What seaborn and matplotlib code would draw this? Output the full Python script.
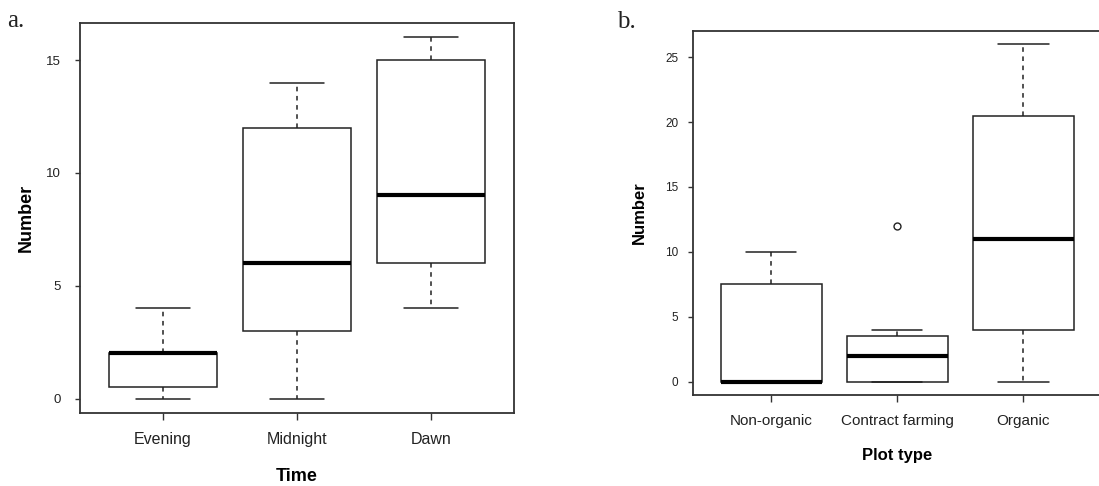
import pandas as pd
import matplotlib.pyplot as plt
import seaborn as sns

time_order = ['Evening', 'Midnight', 'Dawn']
evening = [0, 0, 2, 2, 2, 4]
midnight = [0, 3, 6, 12, 14]
dawn = [4, 6, 9, 15, 16]

plot_order = ['Non-organic', 'Contract farming', 'Organic']
non_organic = [0, 0, 0, 0, 5, 10, 10]
contract = [0, 0, 0, 2, 3, 4, 12]
organic = [0, 4, 4, 11, 19, 22, 26]

df_a = pd.DataFrame({
    'Time': ['Evening'] * len(evening) + ['Midnight'] * len(midnight) + ['Dawn'] * len(dawn),
    'Number': evening + midnight + dawn,
})
df_b = pd.DataFrame({
    'Plot type': ['Non-organic'] * len(non_organic) + ['Contract farming'] * len(contract)
                 + ['Organic'] * len(organic),
    'Number': non_organic + contract + organic,
})

sns.set_theme(style='ticks')
plt.rcParams['font.family'] = ['Liberation Sans', 'DejaVu Sans']

ink = '#222222'
box_kw = dict(
    width=0.8, color='white', linecolor=ink, linewidth=1.1,
    whiskerprops={'linestyle': (0, (3, 3))},
    medianprops={'linewidth': 3, 'color': 'black'},
    flierprops={'marker': 'o', 'markersize': 5, 'markerfacecolor': 'none',
                'markeredgecolor': ink, 'markeredgewidth': 1.0},
)

fig = plt.figure(figsize=(10.99, 4.86), dpi=100)
ax1 = fig.add_axes([0.0728, 0.1502, 0.3949, 0.8025])
ax2 = fig.add_axes([0.6306, 0.1872, 0.3717, 0.7496])

sns.boxplot(data=df_a, x='Time', y='Number', order=time_order, ax=ax1, **box_kw)
sns.boxplot(data=df_b, x='Plot type', y='Number', order=plot_order, ax=ax2, **box_kw)

ax1.set_xlim(-0.62, 2.62)
ax1.set_ylim(-0.64, 16.64)
ax1.set_yticks([0, 5, 10, 15])
ax2.set_xlim(-0.62, 2.62)
ax2.set_ylim(-1.04, 27.04)
ax2.set_yticks([0, 5, 10, 15, 20, 25])

for ax, ysize, xsize, lsize, ypad, ylx, xly in [
        (ax1, 9.5, 11.5, 13, 10.5, -0.124, -0.162),
        (ax2, 8.5, 11, 12, 7.2, -0.132, -0.167)]:
    for sp in ax.spines.values():
        sp.set_visible(True)
        sp.set_color('#333333')
        sp.set_linewidth(1.3)
    ax.tick_params(axis='y', length=3.5, width=1.0, color='#333333',
                   labelsize=ysize, labelcolor=ink, pad=ypad)
    ax.tick_params(axis='x', length=5, width=1.0, color='#333333',
                   labelsize=xsize, labelcolor=ink, pad=8.5)
    ax.set_xlabel(ax.get_xlabel(), fontsize=lsize, fontweight='bold', color='black')
    ax.set_ylabel('Number', fontsize=lsize, fontweight='bold', color='black')
    ax.xaxis.label.set_va('center')
    ax.yaxis.label.set_va('center')
    ax.xaxis.set_label_coords(0.5, xly)
    ax.yaxis.set_label_coords(ylx, 0.5)

fig.text(7 / 1099, 1 - 21 / 486, 'a.', family=['Liberation Serif'], fontsize=18,
         va='center', ha='left', color=ink)
fig.text(617 / 1099, 1 - 22 / 486, 'b.', family=['Liberation Serif'], fontsize=18,
         va='center', ha='left', color=ink)

fig.savefig('out.png', dpi=100, facecolor='white')
